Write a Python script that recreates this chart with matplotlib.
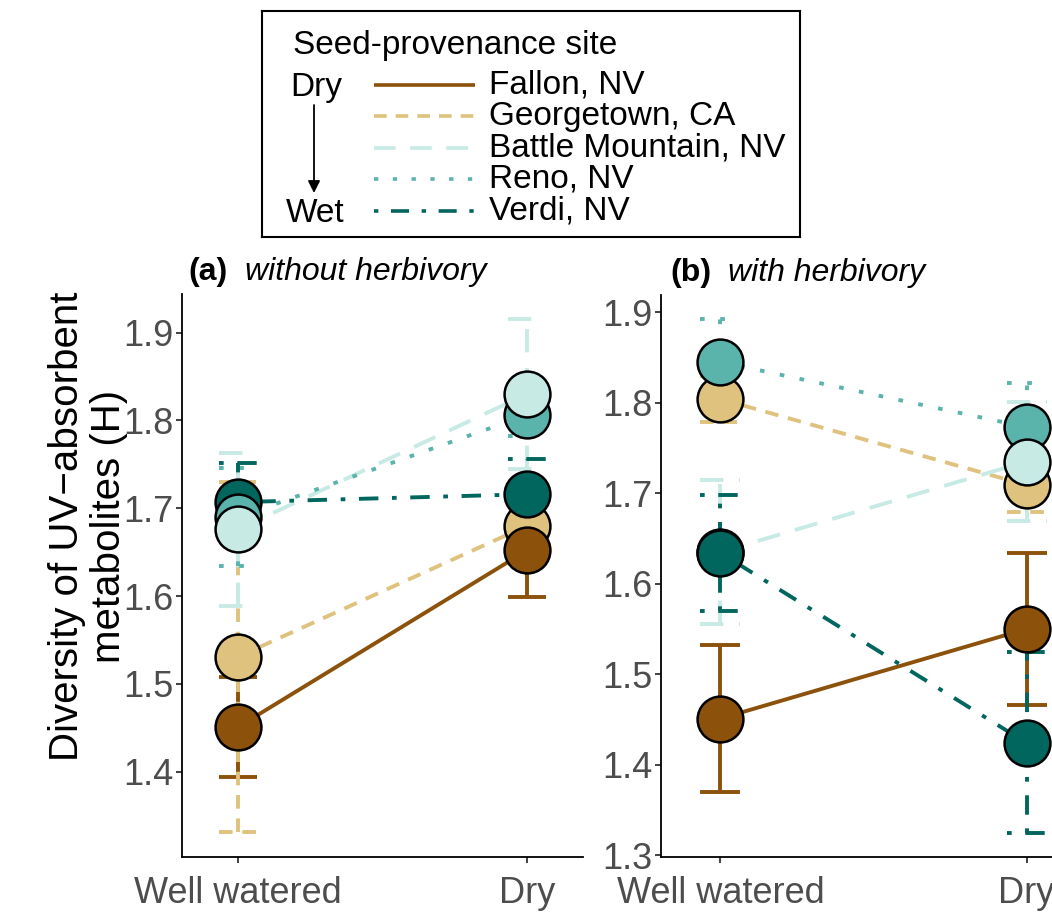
import numpy as np
import matplotlib.pyplot as plt

plt.rcParams['font.family'] = ['Liberation Sans', 'DejaVu Sans']

conditions = ['Well watered', 'Dry']
sites = ['Fallon, NV', 'Georgetown, CA', 'Battle Mountain, NV', 'Reno, NV', 'Verdi, NV']
colors = ['#8C510A', '#DFC27D', '#C7EAE5', '#5AB4AC', '#01665E']
dashes = [None, (3.5, 2.5), (6, 4), (1.2, 4), (1.2, 3.5, 5, 3.5)]

# mean diversity (H) per site: [well watered, dry]
mean_no_herb = [[1.451, 1.652], [1.531, 1.680], [1.676, 1.830], [1.690, 1.806], [1.707, 1.716]]
se_no_herb = [[0.057, 0.053], [0.199, 0.030], [0.087, 0.085], [0.056, 0.024], [0.045, 0.040]]
mean_herb = [[1.451, 1.550], [1.804, 1.709], [1.635, 1.735], [1.845, 1.773], [1.634, 1.424]]
se_herb = [[0.081, 0.084], [0.025, 0.030], [0.080, 0.066], [0.047, 0.049], [0.064, 0.100]]

W, H = 1052, 917
fig = plt.figure(figsize=(W / 100, H / 100), dpi=100)

lw = 2.8
capw = 0.065
x = np.arange(1, len(conditions) + 1)


def style(line, i):
    if dashes[i] is not None:
        line.set_dashes(dashes[i])
    line.set_dash_capstyle('butt')
    line.set_solid_capstyle('butt')


def panel(ax, means, ses, order, ylim, yticks):
    for i in range(len(sites)):
        m = np.array(means[i])
        s = np.array(ses[i])
        ln, = ax.plot(x, m, color=colors[i], lw=lw, zorder=2)
        style(ln, i)
        for xi, mi, si in zip(x, m, s):
            for seg in ([xi, xi], [mi - si, mi + si]), ([xi - capw, xi + capw], [mi + si] * 2), \
                       ([xi - capw, xi + capw], [mi - si] * 2):
                el, = ax.plot(seg[0], seg[1], color=colors[i], lw=lw, zorder=2)
                style(el, i)
    for rank, i in enumerate(order):
        ax.plot(x, means[i], ls='none', marker='o', ms=33, mfc=colors[i], mec='black',
                mew=1.8, zorder=3 + rank)
    ax.set_xlim(0.806, 2.194)
    ax.set_ylim(*ylim)
    ax.set_xticks(x)
    ax.set_xticklabels(conditions)
    ax.set_yticks(yticks)
    ax.set_yticklabels([f'{t:.1f}' for t in yticks])
    for sp in ['top', 'right']:
        ax.spines[sp].set_visible(False)
    for sp in ['left', 'bottom']:
        ax.spines[sp].set_linewidth(1.3)
    ax.tick_params(labelsize=26, labelcolor='#4D4D4D', color='#333333', length=4, width=1.3)
    ax.tick_params(axis='y', pad=2)
    ax.tick_params(axis='x', pad=10)


def title(ax, tag, text, xfrac):
    t = ax.text(xfrac, 1.012, tag, transform=ax.transAxes, fontsize=23, fontweight='bold',
                ha='left', va='bottom')
    ax.annotate(text, xy=(1, 0), xycoords=t, xytext=(12, 0), textcoords='offset points',
                fontsize=23, style='italic', ha='left', va='bottom')


ax_a = fig.add_axes([182 / W, (H - 857) / H, 401 / W, 563 / H])
panel(ax_a, mean_no_herb, se_no_herb, [1, 4, 3, 2, 0], (1.303, 1.944),
      [1.4, 1.5, 1.6, 1.7, 1.8, 1.9])
title(ax_a, '(a)', 'without herbivory', 0.017)

ax_b = fig.add_axes([661 / W, (H - 857) / H, 425 / W, 562 / H])
panel(ax_b, mean_herb, se_herb, [1, 3, 2, 4, 0], (1.298, 1.919),
      [1.3, 1.4, 1.5, 1.6, 1.7, 1.8, 1.9])
title(ax_b, '(b)', 'with herbivory', 0.021)

fig.text(88 / W, (H - 526) / H, 'Diversity of UV\u2212absorbent\nmetabolites (H)', rotation=90,
         ha='center', va='center', fontsize=29, multialignment='center', linespacing=1.12)

# legend box, drawn in local pixel units
lx0, ly0, lwid, lhei = 262, 11, 538, 226
lax = fig.add_axes([lx0 / W, (H - ly0 - lhei) / H, lwid / W, lhei / H])
lax.set_xlim(0, lwid)
lax.set_ylim(lhei, 0)
lax.set_xticks([])
lax.set_yticks([])
for sp in lax.spines.values():
    sp.set_linewidth(1.5)
lax.text(31, 34, 'Seed-provenance site', fontsize=24, ha='left', va='center')
for i, site in enumerate(sites):
    yy = 73.5 + 31.6 * i
    ln, = lax.plot([112, 213], [yy, yy], color=colors[i], lw=2.6)
    style(ln, i)
    lax.text(227, yy, site, fontsize=24, ha='left', va='center')
lax.text(28, 76, 'Dry', fontsize=24, ha='left', va='center')
lax.text(24, 203, 'Wet', fontsize=24, ha='left', va='center')
lax.annotate('', xy=(52, 182), xytext=(52, 94),
             arrowprops=dict(arrowstyle='-|>', color='black', lw=1.3, mutation_scale=18,
                             shrinkA=0, shrinkB=0))

fig.savefig('out.png', dpi=100)
